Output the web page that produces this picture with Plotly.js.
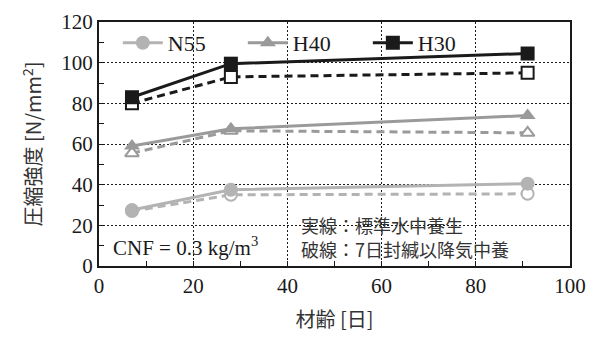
<!DOCTYPE html>
<html>
<head>
<meta charset="utf-8">
<script src="https://cdn.plot.ly/plotly-3.0.1.min.js"></script>
<style>html,body{margin:0;padding:0;background:#fff;}#chart{width:597px;height:343px;}</style>
</head>
<body>
<div id="chart"></div>
<script>
const days = [7, 28, 91];
const seriesNames = ['N55', 'H40', 'H30'];
const n55Standard = [27.5, 37.5, 40.5];
const n55Sealed = [27, 35, 35.5];
const h40Standard = [59, 67.5, 74];
const h40Sealed = [55.5, 66.5, 65.5];
const h30Standard = [83, 99.5, 104.5];
const h30Sealed = [80, 93, 95];
const xTickVals = [0, 20, 40, 60, 80, 100];
const yTickVals = [0, 20, 40, 60, 80, 100, 120];
const noteSolid = '実線：標準水中養生';
const noteDashed = '破線：7日封緘以降気中養';
const noteCnf = 'CNF = 0.3 kg/m<sup>3</sup>';

const colors = {N55: '#b3b3b3', H40: '#9a9a9a', H30: '#1a1a1a'};
const symbols = {N55: 'circle', H40: 'triangle-up', H30: 'square'};
const standard = {N55: n55Standard, H40: h40Standard, H30: h30Standard};
const sealed = {N55: n55Sealed, H40: h40Sealed, H30: h30Sealed};

const traces = [];
seriesNames.forEach(n => {
  traces.push({
    x: days, y: sealed[n], mode: 'lines+markers', showlegend: false, name: n + ' sealed',
    line: {color: colors[n], width: 3, dash: '8px,5px'},
    marker: {symbol: symbols[n], size: 12, color: '#ffffff', line: {color: colors[n], width: 2}}
  });
});
seriesNames.forEach(n => {
  traces.push({
    x: days, y: standard[n], mode: 'lines+markers', name: n,
    line: {color: colors[n], width: 3},
    marker: {symbol: symbols[n], size: 14, color: colors[n]}
  });
});

const serif = 'Liberation Serif, Times New Roman, serif';
const jp = 'Noto Sans CJK JP, sans-serif';

const layout = {
  width: 597, height: 343,
  margin: {l: 99, r: 27, t: 22, b: 77},
  paper_bgcolor: '#fff', plot_bgcolor: '#fff',
  font: {family: serif, size: 20, color: '#1a1a1a'},
  showlegend: true,
  legend: {orientation: 'h', x: 0.04, y: 1.0, xanchor: 'left', yanchor: 'top',
    bgcolor: 'rgba(0,0,0,0)', font: {family: serif, size: 22, color: '#1a1a1a'},
    traceorder: 'normal', itemwidth: 40, entrywidthmode: 'pixels', entrywidth: 70},
  xaxis: {
    range: [0, 100], tickvals: xTickVals, ticks: 'inside', ticklen: 5, tickcolor: '#1a1a1a',
    showgrid: true, gridcolor: '#1a1a1a', griddash: '2px,2px', gridwidth: 1,
    minor: {dtick: 10, ticks: 'inside', ticklen: 5, tickcolor: '#1a1a1a', showgrid: false},
    showline: true, linecolor: '#1a1a1a', linewidth: 2, mirror: true, zeroline: false,
    tickfont: {family: serif, size: 21},
    title: {text: '材齢 [日]', font: {family: jp, size: 20, color: '#333'}, standoff: 16}
  },
  yaxis: {
    range: [0, 120], tickvals: yTickVals, ticks: 'inside', ticklen: 5, tickcolor: '#1a1a1a',
    showgrid: true, gridcolor: '#1a1a1a', griddash: '2px,2px', gridwidth: 1,
    minor: {dtick: 10, ticks: 'inside', ticklen: 5, tickcolor: '#1a1a1a', showgrid: false},
    showline: true, linecolor: '#1a1a1a', linewidth: 2, mirror: true, zeroline: false,
    tickfont: {family: serif, size: 21},
    title: {text: '圧縮強度 [N/mm<sup>2</sup>]', font: {family: jp, size: 20, color: '#333'}, standoff: 14}
  },
  annotations: [
    {x: 42.5, y: 20.2, xref: 'x', yref: 'y', xanchor: 'left', yanchor: 'middle', showarrow: false,
     text: noteSolid, font: {family: jp, size: 18, color: '#333'}},
    {x: 42.5, y: 8.6, xref: 'x', yref: 'y', xanchor: 'left', yanchor: 'middle', showarrow: false,
     text: noteDashed, font: {family: jp, size: 18, color: '#333'}},
    {x: 2.5, y: 9.5, xref: 'x', yref: 'y', xanchor: 'left', yanchor: 'middle', showarrow: false,
     text: noteCnf, font: {family: serif, size: 21, color: '#1a1a1a'}}
  ]
};

Plotly.newPlot('chart', traces, layout, {displayModeBar: false, staticPlot: true});
</script>
</body>
</html>
